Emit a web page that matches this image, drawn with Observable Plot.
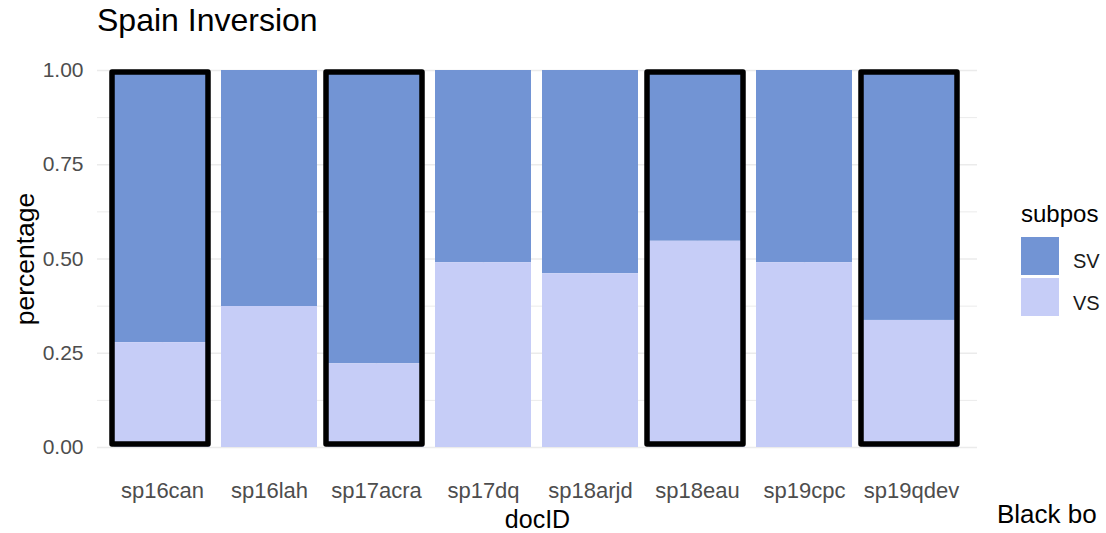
<!DOCTYPE html>
<html>
<head>
<meta charset="utf-8">
<script src="https://cdn.jsdelivr.net/npm/d3@7"></script>
<script src="https://cdn.jsdelivr.net/npm/@observablehq/plot@0.6"></script>
<style>
  html, body { margin: 0; padding: 0; background: #fff; }
  #wrap { position: relative; width: 1106px; height: 533px; overflow: hidden; font-family: "Liberation Sans", Arial, sans-serif; }
  #wrap svg { position: absolute; left: 0; top: 0; }
  .abs { position: absolute; white-space: nowrap; }
  #title { left: 97px; top: 4px; font-size: 32px; line-height: 32px; color: #000; }
  #caption { left: 997px; top: 501px; font-size: 26px; line-height: 26px; color: #000; }
  .lgtitle { font-size: 24px; line-height: 24px; color: #000; }
  .lglabel { font-size: 20px; line-height: 20px; color: #1a1a1a; }
  .sw { width: 38px; height: 38px; }
</style>
</head>
<body>
<div id="wrap">
  <div id="title" class="abs">Spain Inversion</div>
  <div class="abs lgtitle" style="left:1021px; top:202px;">subpos</div>
  <div id="legend"></div>
  <div id="caption" class="abs">Black bo</div>
</div>
<script>
// ---- data ----
const docIDs = ["sp16can", "sp16lah", "sp17acra", "sp17dq", "sp18arjd", "sp18eau", "sp19cpc", "sp19qdev"];
const vsShare = [0.278, 0.374, 0.222, 0.490, 0.461, 0.547, 0.490, 0.337];
const svShare = [0.722, 0.626, 0.778, 0.510, 0.539, 0.453, 0.510, 0.663];
const subposLevels = ["SV", "VS"];
const subposColors = ["#7294D4", "#C6CDF7"];
const highlighted = ["sp16can", "sp17acra", "sp18eau", "sp19qdev"];
const yTicks = [0, 0.25, 0.5, 0.75, 1];
const yMinorTicks = [0.125, 0.375, 0.625, 0.875];

// long table
const rows = [];
docIDs.forEach((d, i) => {
  rows.push({docID: d, subpos: "SV", percentage: svShare[i]});
  rows.push({docID: d, subpos: "VS", percentage: vsShare[i]});
});
const boxes = highlighted.map(d => {
  const i = docIDs.indexOf(d);
  return {docID: d, total: vsShare[i] + svShare[i]};
});

const W = 1106, H = 533;
const chart = Plot.plot({
  width: W,
  height: H,
  marginLeft: 97,
  marginRight: 129,
  marginTop: 70,
  marginBottom: 86,
  style: {fontFamily: "'Liberation Sans', Arial, sans-serif", fontSize: "21px", color: "#4D4D4D", background: "transparent", overflow: "visible"},
  x: {domain: docIDs, paddingInner: 0.1, paddingOuter: 0.15, label: null},
  y: {domain: [0, 1], label: null},
  color: {domain: subposLevels, range: subposColors},
  marks: [
    Plot.ruleY(yMinorTicks, {stroke: "#EBEBEB", strokeWidth: 1}),
    Plot.gridY(yTicks, {stroke: "#EBEBEB", strokeOpacity: 1, strokeWidth: 1.6}),
    Plot.gridX(docIDs, {stroke: "#EBEBEB", strokeOpacity: 1, strokeWidth: 1.6}),
    Plot.barY(rows, {x: "docID", y: "percentage", fill: "subpos", order: ["VS", "SV"]}),
    Plot.barY(boxes, {x: "docID", y: "total", fill: "none", stroke: "black", strokeWidth: 5.5, strokeLinejoin: "round", insetTop: 2, insetBottom: 3, dx: -2}),
    Plot.axisY(yTicks, {tickSize: 0, tickPadding: 14, tickFormat: d3.format(".2f"), label: null, fill: "#4D4D4D", fontSize: 21}),
    Plot.axisX({tickSize: 0, tickPadding: 35, label: null, fill: "#4D4D4D", fontSize: 22}),
    Plot.text(["docID"], {text: d => d, frameAnchor: "bottom", dy: 80, lineAnchor: "bottom", textAnchor: "middle", fontSize: 25, fill: "black"}),
    Plot.text(["percentage"], {text: d => d, frameAnchor: "left", dx: -63.5, rotate: -90, lineAnchor: "bottom", textAnchor: "middle", fontSize: 26.5, fill: "black"})
  ]
});
document.getElementById("wrap").insertBefore(chart, document.getElementById("title"));

// legend
const legend = document.getElementById("legend");
const swTops = [237, 278];
const lbTops = [251, 293];
subposLevels.forEach((s, i) => {
  const sw = document.createElement("div");
  sw.className = "abs sw";
  sw.style.left = "1021px";
  sw.style.top = swTops[i] + "px";
  sw.style.background = subposColors[i];
  legend.appendChild(sw);
  const lb = document.createElement("div");
  lb.className = "abs lglabel";
  lb.style.left = "1073px";
  lb.style.top = lbTops[i] + "px";
  lb.textContent = s;
  legend.appendChild(lb);
});
</script>
</body>
</html>
